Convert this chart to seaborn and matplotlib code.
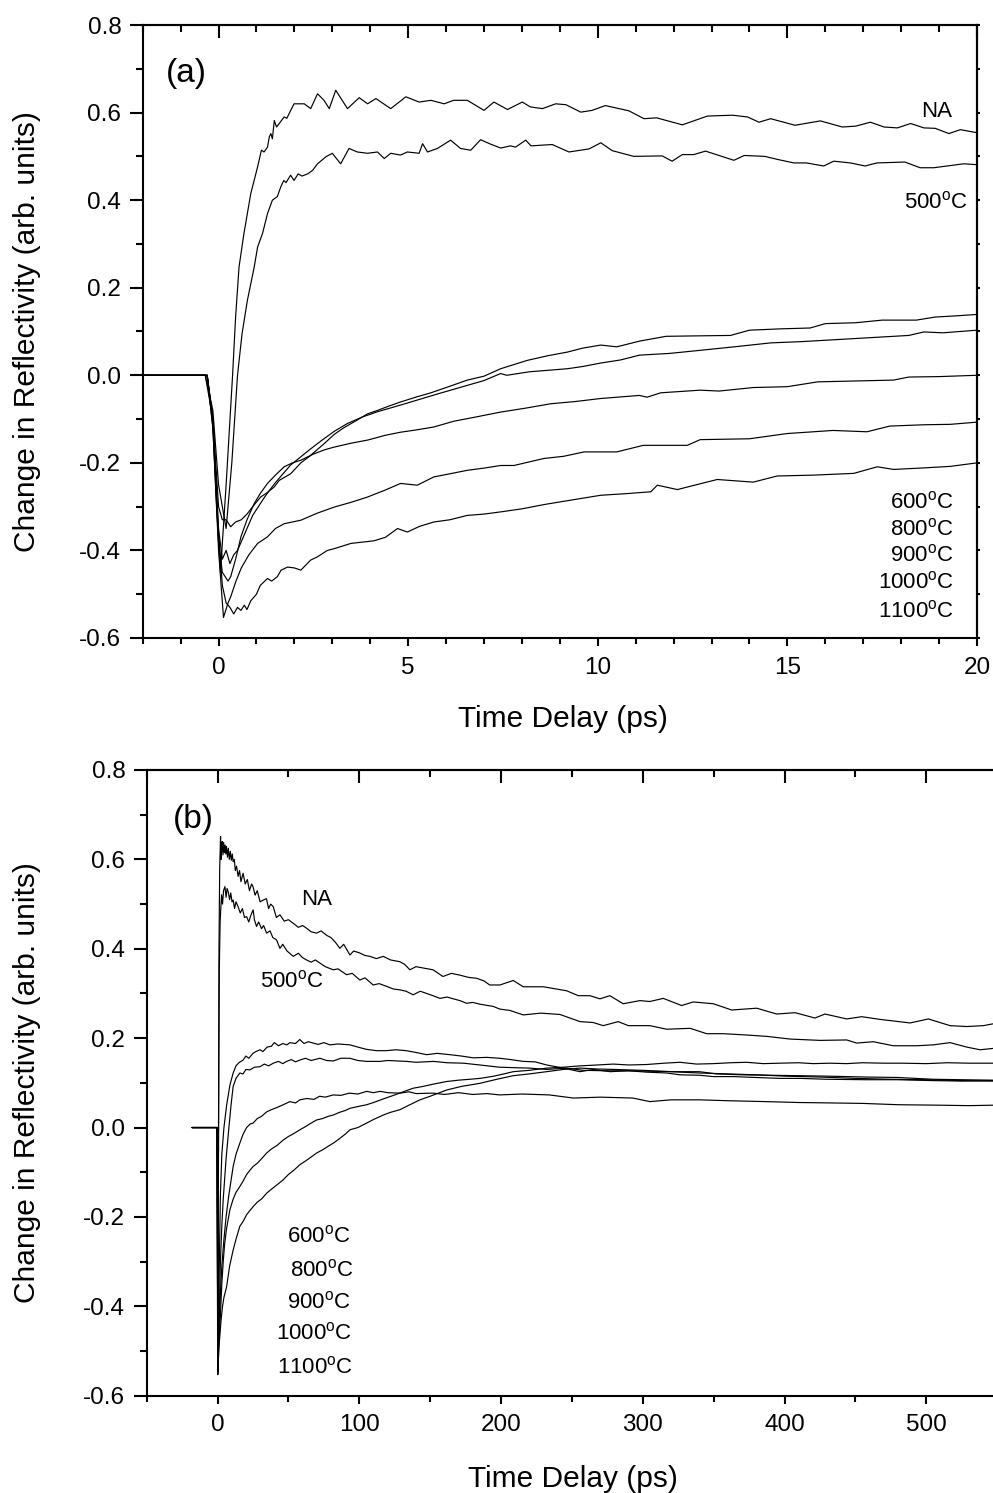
import matplotlib
matplotlib.use("Agg")
import numpy as np
import pandas as pd
import seaborn as sns
import matplotlib.pyplot as plt
from matplotlib.ticker import MultipleLocator, FixedLocator, FormatStrFormatter, NullFormatter

# ---------------- data: panel (a), 0-20 ps ----------------
a_NA = [(-2.0, 0), (-1.0, 0), (-0.35, 0), (-0.15, -0.1), (-0.05, -0.3), (0.05, -0.45), (0.2, -0.25),
        (0.37, 0.0), (0.45, 0.133), (0.54, 0.247), (0.67, 0.324), (0.85, 0.415), (1.03, 0.476),
        (1.13, 0.514), (1.2, 0.51), (1.29, 0.521), (1.34, 0.545), (1.38, 0.552), (1.42, 0.54),
        (1.47, 0.582), (1.53, 0.567), (1.6, 0.575), (1.73, 0.59), (1.8, 0.587), (1.99, 0.62),
        (2.26, 0.62), (2.43, 0.609), (2.61, 0.643), (2.78, 0.628), (2.92, 0.609), (3.09, 0.651),
        (3.26, 0.628), (3.4, 0.609), (3.71, 0.634), (3.93, 0.62), (4.15, 0.632), (4.54, 0.609),
        (4.94, 0.636), (5.29, 0.624), (5.6, 0.628), (5.95, 0.62), (6.2, 0.628), (6.56, 0.628),
        (7.0, 0.605), (7.26, 0.624), (7.62, 0.607), (8.01, 0.624), (8.22, 0.613), (8.54, 0.609),
        (8.89, 0.62), (9.16, 0.618), (9.55, 0.601), (9.85, 0.605), (10.2, 0.616), (10.82, 0.604),
        (11.22, 0.586), (11.55, 0.588), (12.23, 0.572), (12.89, 0.592), (13.55, 0.594), (13.95, 0.59),
        (14.25, 0.578), (14.56, 0.586), (15.2, 0.571), (15.87, 0.581), (16.45, 0.567), (16.8, 0.569),
        (17.19, 0.578), (17.55, 0.567), (17.9, 0.565), (18.25, 0.575), (18.6, 0.565), (18.9, 0.564),
        (19.26, 0.552), (19.56, 0.561), (20.0, 0.554)]

a_500 = [(-2.0, 0), (-1.0, 0), (-0.35, 0), (-0.15, -0.08), (0.0, -0.25), (0.2, -0.35), (0.35, -0.2),
         (0.5, 0.0), (0.62, 0.095), (0.76, 0.171), (0.94, 0.247), (1.03, 0.293), (1.16, 0.324),
         (1.29, 0.369), (1.42, 0.4), (1.55, 0.408), (1.64, 0.43), (1.72, 0.445), (1.78, 0.44),
         (1.9, 0.457), (1.99, 0.445), (2.1, 0.46), (2.2, 0.455), (2.35, 0.46), (2.48, 0.468),
         (2.61, 0.483), (2.83, 0.499), (3.0, 0.507), (3.22, 0.483), (3.44, 0.518), (3.66, 0.51),
         (3.93, 0.507), (4.19, 0.51), (4.37, 0.495), (4.54, 0.507), (4.8, 0.503), (4.98, 0.51),
         (5.29, 0.507), (5.38, 0.529), (5.51, 0.51), (5.77, 0.518), (6.12, 0.537), (6.38, 0.518),
         (6.65, 0.514), (6.91, 0.538), (7.17, 0.528), (7.44, 0.519), (7.7, 0.524), (7.83, 0.521),
         (8.1, 0.537), (8.24, 0.524), (8.8, 0.527), (9.24, 0.51), (9.77, 0.517), (10.08, 0.531),
         (10.38, 0.513), (10.95, 0.5), (11.7, 0.501), (11.96, 0.489), (12.23, 0.504), (12.53, 0.504),
         (12.84, 0.512), (13.59, 0.491), (13.86, 0.502), (14.4, 0.5), (14.74, 0.493), (15.17, 0.485),
         (15.5, 0.485), (15.96, 0.478), (16.22, 0.489), (16.66, 0.485), (17.05, 0.478), (17.36, 0.485),
         (18.1, 0.487), (18.5, 0.474), (18.86, 0.474), (19.65, 0.483), (20.0, 0.481)]

a_600 = [(-2.0, 0), (-1.0, 0), (-0.3, 0), (-0.15, -0.1), (0.0, -0.3), (0.1, -0.33), (0.2, -0.33),
         (0.32, -0.346), (0.45, -0.335), (0.6, -0.33), (0.76, -0.316), (0.9, -0.3), (1.11, -0.278),
         (1.25, -0.27), (1.47, -0.255), (1.6, -0.24), (1.9, -0.225), (2.17, -0.2), (2.4, -0.185),
         (2.6, -0.17), (2.8, -0.155), (3.05, -0.135), (3.3, -0.12), (3.6, -0.105), (3.93, -0.088),
         (4.2, -0.08), (4.5, -0.07), (4.8, -0.061), (5.2, -0.05), (5.6, -0.04), (6.0, -0.028),
         (6.56, -0.011), (7.0, -0.002), (7.44, 0.015), (8.14, 0.034), (8.7, 0.045), (9.2, 0.053),
         (9.6, 0.062), (10.08, 0.069), (10.5, 0.065), (11.1, 0.078), (11.8, 0.089), (12.6, 0.09),
         (13.5, 0.091), (14.0, 0.103), (14.8, 0.106), (15.6, 0.108), (16.0, 0.118), (16.8, 0.12),
         (17.5, 0.126), (18.4, 0.126), (18.9, 0.133), (19.5, 0.136), (20.0, 0.139)]

a_800 = [(-2.0, 0), (-1.0, 0), (-0.3, 0), (-0.15, -0.1), (0.0, -0.35), (0.1, -0.42), (0.2, -0.40),
         (0.3, -0.43), (0.4, -0.41), (0.5, -0.40), (0.6, -0.38), (0.75, -0.35), (0.9, -0.32),
         (1.05, -0.3), (1.2, -0.28), (1.35, -0.262), (1.5, -0.245), (1.7, -0.225), (1.9, -0.205),
         (2.17, -0.186), (2.4, -0.17), (2.7, -0.15), (3.05, -0.128), (3.4, -0.11), (3.8, -0.095),
         (4.2, -0.083), (4.8, -0.068), (5.3, -0.055), (5.8, -0.042), (6.56, -0.023), (7.0, -0.012),
         (7.44, 0.004), (7.6, 0.0), (8.2, 0.008), (9.2, 0.015), (9.6, 0.02), (10.08, 0.028),
         (10.6, 0.035), (11.1, 0.046), (11.9, 0.05), (12.7, 0.057), (13.6, 0.065), (14.56, 0.074),
         (15.4, 0.077), (16.2, 0.081), (17.2, 0.086), (18.2, 0.091), (18.6, 0.099), (19.1, 0.097),
         (20.0, 0.103)]

a_900 = [(-2.0, 0), (-1.0, 0), (-0.3, 0), (-0.15, -0.12), (0.0, -0.38), (0.1, -0.45), (0.25, -0.47),
         (0.32, -0.46), (0.45, -0.42), (0.59, -0.369), (0.75, -0.33), (0.94, -0.293), (1.1, -0.27),
         (1.29, -0.247), (1.5, -0.228), (1.73, -0.209), (1.95, -0.2), (2.17, -0.194), (2.5, -0.18),
         (2.8, -0.17), (3.05, -0.164), (3.5, -0.155), (3.93, -0.148), (4.4, -0.137), (4.8, -0.13),
         (5.2, -0.125), (5.68, -0.118), (6.2, -0.105), (6.8, -0.095), (7.44, -0.084), (8.1, -0.075),
         (8.76, -0.065), (9.4, -0.06), (10.08, -0.053), (11.1, -0.046), (11.3, -0.05), (11.66, -0.04),
         (12.7, -0.034), (13.2, -0.036), (14.1, -0.028), (15.0, -0.026), (15.8, -0.015), (16.8, -0.013),
         (17.8, -0.011), (18.2, -0.004), (19.0, -0.003), (20.0, 0.0)]

a_1000 = [(-2.0, 0), (-1.0, 0), (-0.3, 0), (-0.15, -0.12), (0.0, -0.4), (0.13, -0.553), (0.25, -0.52),
          (0.32, -0.506), (0.46, -0.47), (0.6, -0.44), (0.8, -0.41), (1.03, -0.384), (1.29, -0.369),
          (1.5, -0.35), (1.73, -0.339), (2.17, -0.331), (2.6, -0.315), (3.05, -0.301), (3.5, -0.29),
          (3.93, -0.278), (4.4, -0.262), (4.8, -0.247), (5.24, -0.251), (5.68, -0.232), (6.1, -0.225),
          (6.56, -0.217), (7.0, -0.212), (7.44, -0.206), (7.79, -0.206), (8.58, -0.19), (9.1, -0.185),
          (9.64, -0.175), (10.5, -0.175), (11.2, -0.16), (12.36, -0.16), (12.7, -0.147), (14.0, -0.145),
          (15.0, -0.133), (16.2, -0.126), (17.1, -0.129), (17.7, -0.116), (18.6, -0.113), (19.3, -0.112),
          (20.0, -0.107)]

a_1100 = [(-2.0, 0), (-1.0, 0), (-0.3, 0), (-0.15, -0.1), (0.0, -0.36), (0.1, -0.48), (0.2, -0.52),
          (0.3, -0.53), (0.4, -0.545), (0.5, -0.53), (0.59, -0.537), (0.68, -0.525), (0.75, -0.535),
          (0.85, -0.515), (1.0, -0.5), (1.1, -0.48), (1.29, -0.464), (1.4, -0.47), (1.55, -0.46),
          (1.65, -0.445), (1.82, -0.438), (2.0, -0.44), (2.17, -0.445), (2.43, -0.422), (2.6, -0.415),
          (2.87, -0.4), (3.05, -0.396), (3.49, -0.384), (4.1, -0.378), (4.4, -0.37), (4.72, -0.35),
          (4.98, -0.358), (5.3, -0.345), (5.68, -0.335), (6.1, -0.33), (6.56, -0.32), (7.0, -0.317),
          (7.44, -0.312), (8.0, -0.305), (8.6, -0.295), (9.3, -0.285), (10.08, -0.274), (10.8, -0.27),
          (11.4, -0.266), (11.57, -0.251), (12.1, -0.261), (12.6, -0.25), (13.15, -0.238), (14.1, -0.244),
          (14.73, -0.23), (15.7, -0.228), (16.75, -0.224), (17.37, -0.209), (17.8, -0.215), (18.5, -0.212),
          (19.3, -0.208), (20.0, -0.2)]

# ---------------- data: panel (b), 0-550 ps ----------------
b_NA = [(-18, 0), (-1, 0), (-0.3, 0), (0.2, -0.4), (0.6, -0.1), (1.0, 0.4), (1.5, 0.58), (2.1, 0.651),
        (2.5, 0.6), (2.8, 0.621), (3.3, 0.64), (3.8, 0.61), (4.3, 0.638), (4.8, 0.615), (5.3, 0.632),
        (5.8, 0.612), (6.3, 0.629), (7, 0.605), (7.6, 0.625), (8.3, 0.6), (9, 0.618), (9.7, 0.598),
        (10.4, 0.612), (11, 0.595), (11.8, 0.6), (12.5, 0.575), (13.4, 0.585), (14.5, 0.562),
        (15.5, 0.575), (16.5, 0.55), (18, 0.569), (19.5, 0.545), (21, 0.555), (22.5, 0.53), (24, 0.545),
        (25, 0.539), (26.5, 0.52), (28, 0.53), (30, 0.505), (32.2, 0.509), (34.5, 0.512), (36, 0.49),
        (37.5, 0.5), (39.3, 0.494), (41.5, 0.47), (44, 0.476), (47, 0.462), (50, 0.465), (53.4, 0.457),
        (57, 0.448), (60, 0.452), (62.8, 0.446), (66, 0.438), (69.9, 0.435), (73, 0.44), (77, 0.43),
        (80, 0.425), (83, 0.415), (86.3, 0.401), (89, 0.41), (93.4, 0.386), (96, 0.395), (100, 0.391),
        (104, 0.385), (107.5, 0.383), (112, 0.378), (117, 0.383), (122, 0.375), (128.7, 0.371),
        (132, 0.365), (135.7, 0.353), (140, 0.36), (145, 0.357), (152, 0.353), (159, 0.338),
        (165, 0.345), (171, 0.341), (177, 0.336), (182.8, 0.334), (188, 0.328), (192, 0.319),
        (199.2, 0.319), (208.6, 0.329), (215.7, 0.315), (229.8, 0.315), (246.3, 0.306), (254.5, 0.295),
        (262.7, 0.295), (269.8, 0.288), (276.8, 0.295), (286.2, 0.277), (298, 0.284), (305, 0.282),
        (314.5, 0.289), (327.4, 0.273), (335.6, 0.281), (349.8, 0.277), (362.7, 0.263), (380.4, 0.267),
        (394.5, 0.254), (407.5, 0.257), (421.5, 0.245), (428.5, 0.254), (443.9, 0.243), (454.5, 0.248),
        (467.4, 0.242), (488.6, 0.234), (501.5, 0.243), (516.8, 0.228), (528.6, 0.226), (540.4, 0.228),
        (547, 0.232)]

b_500 = [(-18, 0), (-1, 0), (-0.3, 0), (0.25, -0.35), (0.7, 0.0), (1.2, 0.35), (1.8, 0.46), (2.8, 0.521),
         (3.5, 0.5), (4.2, 0.53), (5.2, 0.539), (6, 0.515), (6.7, 0.535), (7.5, 0.528), (8.5, 0.51),
         (9.3, 0.525), (10.2, 0.505), (11, 0.509), (12, 0.49), (13, 0.505), (14.5, 0.494), (16, 0.48),
         (17.5, 0.49), (19, 0.47), (20.5, 0.472), (22, 0.46), (23.5, 0.475), (25.1, 0.487), (26, 0.465),
         (27.5, 0.45), (29, 0.46), (31, 0.445), (32.5, 0.452), (34.6, 0.435), (37, 0.44), (39, 0.425),
         (41.6, 0.42), (44, 0.401), (46, 0.41), (49, 0.395), (53.4, 0.383), (57, 0.39), (60, 0.38),
         (62.8, 0.375), (66, 0.37), (69, 0.375), (72.2, 0.368), (76, 0.36), (81.6, 0.353), (85, 0.355),
         (91, 0.342), (95, 0.345), (100.4, 0.33), (104, 0.335), (109.8, 0.319), (114, 0.322),
         (119.2, 0.316), (124, 0.31), (128.7, 0.308), (133, 0.305), (138, 0.297), (143, 0.305),
         (147.5, 0.3), (152, 0.295), (156.9, 0.289), (162, 0.292), (166.3, 0.288), (171, 0.284),
         (175.7, 0.278), (180, 0.28), (185.1, 0.276), (194.5, 0.271), (199.2, 0.265), (206.3, 0.262),
         (215.7, 0.252), (228, 0.256), (241.6, 0.253), (255.7, 0.237), (265, 0.235), (272.1, 0.228),
         (282.7, 0.237), (289.8, 0.228), (305, 0.228), (316.9, 0.22), (333.4, 0.222), (345.1, 0.21),
         (356.9, 0.21), (373.4, 0.207), (387.5, 0.204), (403.9, 0.198), (425.1, 0.195), (443.9, 0.196),
         (450.9, 0.189), (462.7, 0.192), (476.8, 0.183), (493.3, 0.183), (505, 0.185), (516.8, 0.19),
         (528.6, 0.18), (538, 0.174), (547, 0.177)]

b_600 = [(-18, 0), (-1, 0), (-0.3, 0), (0.0, -0.3), (0.4, -0.45), (1.0, -0.35), (2.0, -0.15), (3.0, -0.06),
         (4.5, 0.0), (6.4, 0.05), (8.7, 0.095), (11, 0.122), (13, 0.138), (15, 0.145), (18, 0.151),
         (20, 0.16), (22, 0.155), (25, 0.166), (27, 0.17), (30, 0.174), (32, 0.17), (35, 0.18),
         (38, 0.182), (40, 0.19), (43, 0.183), (46, 0.188), (49, 0.185), (51, 0.19), (55, 0.188),
         (58, 0.197), (61, 0.188), (64, 0.192), (67.5, 0.189), (71, 0.186), (75, 0.19), (79.3, 0.185),
         (85, 0.187), (93.4, 0.185), (99, 0.18), (105, 0.175), (112, 0.172), (119, 0.172), (126, 0.174),
         (133, 0.172), (140, 0.168), (147.5, 0.163), (155, 0.166), (164, 0.163), (172, 0.16),
         (180.4, 0.156), (190, 0.157), (199, 0.155), (207, 0.152), (215.7, 0.148), (224, 0.147),
         (232.2, 0.14), (244, 0.133), (255.7, 0.125), (265, 0.13), (277, 0.125), (290, 0.127),
         (302.7, 0.124), (317, 0.122), (326, 0.118), (340, 0.117), (350, 0.114), (364, 0.114),
         (380, 0.112), (396.8, 0.11), (411, 0.11), (430, 0.108), (458, 0.107), (480, 0.107),
         (505, 0.105), (525, 0.104), (547, 0.105)]

b_800 = [(-18, 0), (-1, 0), (-0.3, 0), (0.0, -0.35), (0.5, -0.5), (1.2, -0.42), (2.0, -0.3), (3.0, -0.22),
         (4, -0.16), (6, -0.07), (8, 0.0), (9.5, 0.05), (11, 0.092), (13, 0.11), (15.7, 0.122),
         (18, 0.12), (20, 0.13), (22.8, 0.129), (26, 0.135), (29.8, 0.136), (33, 0.142), (36, 0.138),
         (39.3, 0.144), (43, 0.148), (46, 0.143), (48.7, 0.148), (52, 0.152), (55, 0.147), (58.1, 0.151),
         (62, 0.155), (66, 0.15), (72.2, 0.155), (77, 0.15), (81.6, 0.149), (87, 0.155), (93.4, 0.155),
         (99, 0.15), (105.2, 0.148), (114.7, 0.148), (120, 0.15), (133.5, 0.148), (140, 0.146),
         (152.3, 0.148), (162, 0.145), (173.5, 0.144), (185, 0.14), (199, 0.135), (208.6, 0.134),
         (220, 0.133), (232.2, 0.13), (246, 0.133), (258, 0.128), (275, 0.127), (290, 0.127),
         (305, 0.126), (322, 0.125), (340, 0.125), (352, 0.12), (370, 0.118), (390, 0.117),
         (411, 0.116), (430, 0.115), (458, 0.113), (480, 0.112), (505, 0.108), (525, 0.107),
         (547, 0.106)]

b_900 = [(-18, 0), (-1, 0), (-0.3, 0), (0.0, -0.35), (0.3, -0.52), (1.0, -0.45), (2, -0.37), (3, -0.31),
         (4.5, -0.25), (6, -0.2), (8, -0.15), (11, -0.087), (13, -0.06), (15.7, -0.035), (18, -0.015),
         (20.5, 0.0), (23, 0.008), (25.1, 0.01), (28, 0.02), (31, 0.025), (34.6, 0.035), (38, 0.04),
         (42, 0.045), (46.3, 0.051), (51, 0.058), (55, 0.055), (58.1, 0.062), (63, 0.065), (68, 0.063),
         (72, 0.07), (76, 0.068), (81.6, 0.073), (87, 0.072), (93, 0.077), (99, 0.075), (105.2, 0.081),
         (110, 0.078), (114.7, 0.081), (120, 0.078), (128.7, 0.077), (135, 0.08), (140, 0.076),
         (152, 0.077), (160, 0.074), (170, 0.078), (180, 0.074), (190, 0.076), (199, 0.073),
         (215, 0.075), (234, 0.073), (251, 0.066), (270, 0.068), (293, 0.066), (305, 0.058),
         (320, 0.062), (340, 0.062), (360, 0.06), (387, 0.058), (410, 0.056), (434, 0.055),
         (455, 0.054), (481, 0.051), (510, 0.05), (530, 0.049), (547, 0.05)]

b_1000 = [(-18, 0), (-1, 0), (-0.3, 0), (0.0, -0.4), (0.3, -0.54), (1, -0.48), (2, -0.42), (3, -0.35),
          (4, -0.3), (5, -0.26), (6.4, -0.225), (8.7, -0.184), (11, -0.16), (13, -0.145), (15.7, -0.132),
          (18, -0.12), (20.5, -0.105), (23, -0.095), (25.1, -0.087), (28, -0.08), (31, -0.07),
          (34.6, -0.057), (38, -0.048), (42, -0.04), (46.3, -0.028), (50, -0.02), (54, -0.013),
          (58.1, -0.005), (62, 0.002), (66, 0.01), (69.9, 0.017), (74, 0.02), (78, 0.025), (81.6, 0.028),
          (86, 0.034), (90, 0.038), (93.4, 0.043), (99, 0.047), (105.2, 0.051), (110, 0.056),
          (116.9, 0.064), (125, 0.073), (131, 0.08), (138, 0.088), (145, 0.092), (152, 0.097),
          (161.6, 0.103), (170, 0.106), (178, 0.108), (185.2, 0.11), (195, 0.115), (202, 0.12),
          (208.6, 0.125), (220, 0.128), (232.2, 0.133), (244, 0.135), (255.7, 0.138), (268, 0.14),
          (279.2, 0.142), (290, 0.14), (302.7, 0.141), (315, 0.144), (326.2, 0.146), (338, 0.142),
          (349.8, 0.143), (362, 0.145), (373.3, 0.146), (385, 0.143), (396.8, 0.144), (410, 0.145),
          (420.3, 0.143), (432, 0.144), (443.9, 0.143), (455, 0.145), (470, 0.144), (483.4, 0.144),
          (500, 0.143), (515, 0.145), (530, 0.144), (547, 0.144)]

b_1100 = [(-18, 0), (-1, 0), (-0.3, 0), (0.0, -0.45), (0.2, -0.553), (0.8, -0.5), (1.5, -0.47), (2.5, -0.43),
          (3.5, -0.4), (4.5, -0.38), (6.4, -0.356), (8.5, -0.31), (11, -0.274), (13, -0.25),
          (15.7, -0.221), (18, -0.21), (20.5, -0.195), (23, -0.185), (25.1, -0.177), (28, -0.167),
          (31, -0.16), (34.6, -0.147), (38, -0.138), (42, -0.128), (46.3, -0.117), (50, -0.105),
          (54, -0.095), (58.1, -0.083), (62, -0.075), (66, -0.066), (69.9, -0.057), (74, -0.05),
          (78, -0.042), (81.6, -0.035), (86, -0.025), (90, -0.015), (93.4, -0.005), (99, 0.0),
          (105.2, 0.01), (110, 0.018), (116.9, 0.028), (122, 0.034), (128.7, 0.04), (135, 0.05),
          (142.8, 0.062), (150, 0.07), (161.6, 0.084), (172, 0.092), (185.2, 0.099), (197, 0.108),
          (208.6, 0.116), (220, 0.12), (232.2, 0.125), (244, 0.13), (255.7, 0.133), (268, 0.131),
          (280, 0.13), (300, 0.128), (320, 0.125), (340, 0.122), (360, 0.12), (380, 0.118),
          (400, 0.115), (425, 0.113), (450, 0.11), (475, 0.108), (500, 0.107), (525, 0.105),
          (547, 0.104)]

series_a = {"NA": a_NA, "500": a_500, "600": a_600, "800": a_800, "900": a_900, "1000": a_1000, "1100": a_1100}
series_b = {"NA": b_NA, "500": b_500, "600": b_600, "800": b_800, "900": b_900, "1000": b_1000, "1100": b_1100}

labels_lower = ["600", "800", "900", "1000", "1100"]


def to_frame(series):
    rows = []
    for name, pts in series.items():
        for i, (t, v) in enumerate(pts):
            rows.append({"sample": name, "order": i, "t": t, "v": v})
    return pd.DataFrame(rows)


df_a = to_frame(series_a)
df_b = to_frame(series_b)

# ---------------- style ----------------
sns.set_theme(style="white")
plt.rcParams["font.family"] = ["Liberation Sans", "DejaVu Sans"]
plt.rcParams["mathtext.default"] = "regular"
plt.rcParams["axes.unicode_minus"] = False
plt.rcParams["axes.edgecolor"] = "black"
plt.rcParams["axes.linewidth"] = 1.5
plt.rcParams["text.color"] = "black"
plt.rcParams["axes.labelcolor"] = "black"
plt.rcParams["xtick.color"] = "black"
plt.rcParams["ytick.color"] = "black"
plt.rcParams["xtick.labelcolor"] = "black"
plt.rcParams["ytick.labelcolor"] = "black"

W, H = 993, 1493
fig = plt.figure(figsize=(W / 100, H / 100), dpi=100)
fig.patch.set_facecolor("white")


def px_axes(left, top, right, bottom):
    return fig.add_axes([left / W, 1 - bottom / H, (right - left) / W, (bottom - top) / H])


axA = px_axes(142.7, 25, 977, 638)
axB = px_axes(146.7, 770, 997.1, 1395.7)

TICK_FS = 17.5
LAB_FS = 16


def style_axes(ax, xmaj, xmin, right_ticks):
    for s in ax.spines.values():
        s.set_color("black")
        s.set_linewidth(1.5)
    ax.set_ylim(-0.6, 0.8)
    ax.yaxis.set_major_locator(MultipleLocator(0.2))
    ax.yaxis.set_minor_locator(MultipleLocator(0.1))
    ax.yaxis.set_major_formatter(FormatStrFormatter("%.1f"))
    ax.xaxis.set_major_locator(MultipleLocator(xmaj))
    ax.xaxis.set_minor_locator(MultipleLocator(xmin))
    ax.tick_params(axis="x", which="both", bottom=True, top=False, direction="out",
                   width=1.5, color="black", labelcolor="black", labelsize=TICK_FS, pad=8)
    ax.tick_params(axis="x", which="major", length=5.5)
    ax.tick_params(axis="x", which="minor", length=4)
    ax.tick_params(axis="y", which="both", left=True, right=False, direction="out",
                   width=1.5, color="black", labelcolor="black", labelsize=TICK_FS, pad=6)
    ax.tick_params(axis="y", which="major", length=9.4)
    ax.tick_params(axis="y", which="minor", length=5)
    ax.set_xlabel("")
    ax.set_ylabel("")
    ax.grid(False)
    # top ticks pointing inward
    sec = ax.secondary_xaxis("top")
    sec.xaxis.set_major_locator(MultipleLocator(xmaj))
    sec.xaxis.set_minor_locator(MultipleLocator(xmin))
    sec.xaxis.set_major_formatter(NullFormatter())
    sec.tick_params(which="both", direction="in", width=1.5, color="black", labeltop=False)
    sec.tick_params(which="major", length=9.4)
    sec.tick_params(which="minor", length=5)
    sec.spines["top"].set_linewidth(1.5)
    sec.spines["top"].set_color("black")
    if right_ticks:
        secy = ax.secondary_yaxis("right")
        secy.yaxis.set_major_locator(MultipleLocator(0.1))
        secy.yaxis.set_major_formatter(NullFormatter())
        secy.tick_params(which="major", direction="out", length=2.5, width=1.5, color="black")
        secy.spines["right"].set_linewidth(1.5)
        secy.spines["right"].set_color("black")


for ax, df in ((axA, df_a), (axB, df_b)):
    sns.lineplot(data=df, x="t", y="v", units="sample", estimator=None, sort=False,
                 color="black", linewidth=0.85, ax=ax, legend=False)

axA.set_xlim(-2, 20)
axB.set_xlim(-50, 550)
style_axes(axA, 5, 1, True)
style_axes(axB, 100, 50, False)

deg = "$^{o}$C"

# panel (a) labels
axA.text(-1.39, 0.669, "(a)", fontsize=24, ha="left", va="baseline")
axA.text(18.53, 0.590, "NA", fontsize=LAB_FS, ha="left", va="baseline")
axA.text(18.07, 0.381, "500" + deg, fontsize=LAB_FS, ha="left", va="baseline")
for lab, yv in zip(labels_lower, [-0.304, -0.365, -0.426, -0.487, -0.553]):
    axA.text(19.39, yv, lab + deg, fontsize=LAB_FS, ha="right", va="baseline")

# panel (b) labels
axB.text(-31.5, 0.67, "(b)", fontsize=24, ha="left", va="baseline")
axB.text(59.3, 0.498, "NA", fontsize=LAB_FS, ha="left", va="baseline")
axB.text(29.9, 0.314, "500" + deg, fontsize=LAB_FS, ha="left", va="baseline")
for lab, xv, yv in zip(labels_lower, [48.7, 51.0, 48.7, 41.1, 42.1], [-0.257, -0.333, -0.404, -0.475, -0.551]):
    axB.text(xv, yv, lab + deg, fontsize=LAB_FS, ha="left", va="baseline")

# axis titles
AX_FS = 21.5
ylab = "Change in Reflectivity (arb. units)"
fig.text(27 / W, 1 - 331.5 / H, ylab, rotation=90, fontsize=AX_FS, ha="center", va="center")
fig.text(27 / W, 1 - 1082.9 / H, ylab, rotation=90, fontsize=AX_FS, ha="center", va="center")
fig.text(563 / W, 1 - 727 / H, "Time Delay (ps)", fontsize=AX_FS, ha="center", va="baseline")
fig.text(573 / W, 1 - 1487 / H, "Time Delay (ps)", fontsize=AX_FS, ha="center", va="baseline")

fig.savefig("out.png", dpi=100, facecolor="white")
